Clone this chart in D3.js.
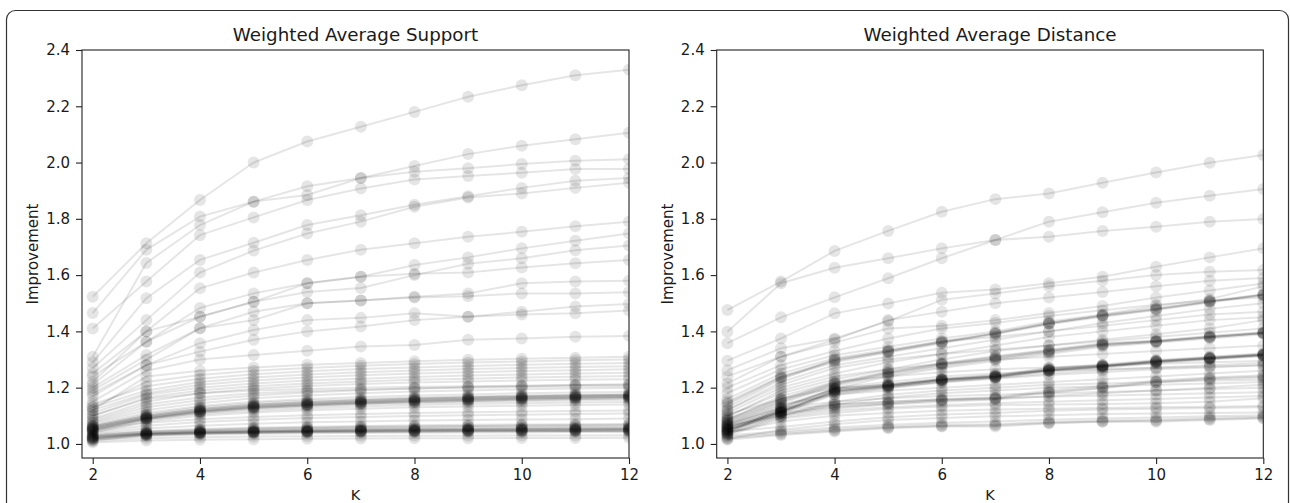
<!DOCTYPE html>
<html><head><meta charset="utf-8">
<script src="https://cdn.jsdelivr.net/npm/d3@7"></script>
<style>
html,body{margin:0;padding:0;background:#fff;}
svg{display:block;font-family:"DejaVu Sans",sans-serif;}
</style>
</head><body>
<svg id="chart" width="1290" height="503"></svg>
<script>
// ---------- data ----------
const kValues = [2,3,4,5,6,7,8,9,10,11,12];
const xTickValues = [2,4,6,8,10,12];
const yTickValues = [1.0,1.2,1.4,1.6,1.8,2.0,2.2,2.4];
const panelTitles = ["Weighted Average Support","Weighted Average Distance"];
const xLabel = "K";
const yLabel = "Improvement";

const supportHigh = [
 [1.523,1.713,1.867,2.000,2.075,2.127,2.180,2.234,2.275,2.310,2.330],
 [1.465,1.690,1.808,1.861,1.916,1.945,1.988,2.030,2.060,2.083,2.106],
 [1.310,1.643,1.778,1.861,1.885,1.945,1.967,1.980,1.995,2.006,2.012],
 [1.410,1.577,1.742,1.805,1.867,1.908,1.940,1.952,1.964,1.977,1.977],
 [1.290,1.518,1.654,1.715,1.778,1.813,1.850,1.880,1.910,1.935,1.945],
 [1.270,1.440,1.609,1.687,1.748,1.790,1.843,1.876,1.890,1.910,1.928],
 [1.250,1.400,1.553,1.609,1.654,1.690,1.713,1.736,1.754,1.774,1.790],
 [1.240,1.363,1.483,1.535,1.571,1.594,1.636,1.663,1.695,1.722,1.748],
 [1.220,1.400,1.452,1.505,1.571,1.594,1.605,1.609,1.627,1.642,1.654],
 [1.210,1.363,1.452,1.505,1.540,1.554,1.600,1.640,1.660,1.688,1.705],
 [1.200,1.316,1.411,1.440,1.500,1.510,1.523,1.535,1.571,1.577,1.580],
 [1.190,1.300,1.411,1.470,1.500,1.510,1.520,1.525,1.535,1.535,1.539],
 [1.180,1.280,1.358,1.405,1.440,1.448,1.464,1.452,1.470,1.488,1.497],
 [1.170,1.280,1.328,1.370,1.400,1.417,1.440,1.452,1.460,1.464,1.474],
 [1.150,1.260,1.300,1.316,1.331,1.346,1.352,1.370,1.375,1.381,1.384]
];
const supportBandA = [
 [1.005,1.012,1.015,1.017,1.018,1.019,1.020,1.020,1.021,1.021,1.022],
 [1.010,1.020,1.024,1.026,1.027,1.028,1.029,1.029,1.030,1.030,1.031],
 [1.012,1.030,1.036,1.039,1.041,1.042,1.043,1.044,1.044,1.045,1.045],
 [1.015,1.028,1.033,1.036,1.038,1.039,1.040,1.041,1.041,1.042,1.042],
 [1.016,1.032,1.037,1.040,1.042,1.043,1.044,1.045,1.046,1.046,1.047],
 [1.018,1.033,1.038,1.041,1.043,1.044,1.045,1.046,1.046,1.047,1.047],
 [1.020,1.035,1.040,1.043,1.045,1.047,1.048,1.049,1.050,1.050,1.051],
 [1.020,1.034,1.039,1.042,1.044,1.046,1.047,1.048,1.048,1.049,1.050],
 [1.022,1.036,1.042,1.045,1.047,1.049,1.050,1.051,1.052,1.053,1.053],
 [1.024,1.036,1.041,1.044,1.046,1.048,1.049,1.050,1.051,1.052,1.052],
 [1.025,1.038,1.044,1.047,1.050,1.052,1.053,1.054,1.055,1.056,1.057],
 [1.027,1.037,1.043,1.046,1.049,1.051,1.052,1.053,1.054,1.055,1.056],
 [1.028,1.040,1.046,1.050,1.053,1.055,1.057,1.058,1.059,1.060,1.061],
 [1.030,1.042,1.048,1.053,1.056,1.058,1.060,1.062,1.063,1.064,1.065],
 [1.032,1.044,1.050,1.055,1.058,1.061,1.063,1.064,1.066,1.067,1.068],
 [1.035,1.046,1.053,1.058,1.061,1.064,1.066,1.068,1.069,1.070,1.071],
 [1.040,1.055,1.065,1.072,1.077,1.080,1.083,1.085,1.087,1.088,1.090],
 [1.045,1.065,1.078,1.086,1.092,1.096,1.099,1.102,1.104,1.106,1.108],
 [1.050,1.075,1.088,1.096,1.102,1.106,1.110,1.113,1.115,1.117,1.119]
];
const supportBandB = [
 [1.040,1.080,1.100,1.112,1.120,1.125,1.130,1.133,1.136,1.138,1.140],
 [1.045,1.085,1.106,1.118,1.127,1.133,1.138,1.142,1.145,1.147,1.149],
 [1.048,1.088,1.112,1.127,1.136,1.143,1.149,1.153,1.157,1.160,1.163],
 [1.050,1.088,1.110,1.124,1.133,1.140,1.145,1.149,1.152,1.155,1.157],
 [1.052,1.090,1.114,1.128,1.137,1.144,1.149,1.153,1.157,1.160,1.162],
 [1.053,1.091,1.115,1.130,1.139,1.146,1.152,1.157,1.161,1.164,1.167],
 [1.055,1.092,1.116,1.131,1.140,1.147,1.153,1.157,1.161,1.164,1.166],
 [1.057,1.094,1.118,1.133,1.142,1.149,1.155,1.160,1.164,1.167,1.170],
 [1.058,1.095,1.119,1.134,1.143,1.150,1.156,1.160,1.164,1.167,1.169],
 [1.060,1.098,1.122,1.137,1.146,1.153,1.159,1.163,1.167,1.170,1.172],
 [1.062,1.100,1.125,1.140,1.149,1.156,1.162,1.166,1.170,1.173,1.175],
 [1.063,1.100,1.124,1.139,1.148,1.155,1.161,1.165,1.169,1.172,1.174],
 [1.065,1.105,1.130,1.145,1.154,1.160,1.165,1.169,1.172,1.175,1.177],
 [1.070,1.110,1.135,1.150,1.160,1.167,1.172,1.176,1.180,1.183,1.185],
 [1.075,1.120,1.145,1.162,1.172,1.180,1.186,1.190,1.194,1.197,1.200],
 [1.080,1.130,1.155,1.172,1.183,1.191,1.197,1.202,1.206,1.209,1.212]
];
const supportBandC = [
 [1.090,1.150,1.180,1.196,1.206,1.213,1.218,1.222,1.225,1.228,1.230],
 [1.100,1.165,1.190,1.205,1.215,1.222,1.228,1.232,1.236,1.239,1.241],
 [1.110,1.175,1.200,1.215,1.225,1.232,1.238,1.243,1.247,1.250,1.253],
 [1.120,1.180,1.210,1.225,1.236,1.244,1.250,1.255,1.259,1.262,1.265],
 [1.130,1.190,1.220,1.236,1.247,1.255,1.261,1.266,1.270,1.273,1.276],
 [1.140,1.205,1.232,1.248,1.258,1.266,1.272,1.277,1.281,1.285,1.288],
 [1.130,1.220,1.245,1.260,1.270,1.278,1.284,1.289,1.293,1.297,1.300],
 [1.120,1.240,1.260,1.272,1.281,1.288,1.294,1.299,1.303,1.306,1.310],
 [1.100,1.160,1.180,1.190,1.195,1.200,1.203,1.205,1.207,1.209,1.210],
 [1.085,1.140,1.165,1.180,1.188,1.193,1.197,1.200,1.202,1.204,1.205]
];

const distanceHigh = [
 [1.476,1.577,1.686,1.757,1.825,1.870,1.890,1.928,1.965,1.999,2.027],
 [1.399,1.571,1.626,1.660,1.695,1.725,1.736,1.757,1.772,1.790,1.799],
 [1.358,1.450,1.521,1.589,1.660,1.725,1.790,1.823,1.857,1.882,1.906],
 [1.296,1.375,1.464,1.499,1.537,1.549,1.571,1.594,1.630,1.663,1.695],
 [1.262,1.340,1.375,1.436,1.512,1.535,1.560,1.580,1.600,1.612,1.618]
];
const distanceSteep = [
 [1.150,1.240,1.298,1.328,1.360,1.393,1.429,1.455,1.478,1.506,1.530],
 [1.140,1.235,1.290,1.325,1.358,1.390,1.425,1.452,1.476,1.503,1.528],
 [1.145,1.238,1.295,1.330,1.362,1.392,1.428,1.456,1.480,1.505,1.530],
 [1.160,1.250,1.305,1.335,1.365,1.395,1.430,1.458,1.482,1.508,1.532],
 [1.120,1.220,1.280,1.310,1.340,1.370,1.400,1.430,1.455,1.480,1.500],
 [1.180,1.265,1.315,1.345,1.375,1.400,1.435,1.460,1.490,1.515,1.560]
];
const distanceBandE = [
 [1.080,1.150,1.210,1.250,1.280,1.304,1.328,1.352,1.363,1.379,1.393],
 [1.082,1.152,1.212,1.252,1.282,1.306,1.330,1.353,1.365,1.380,1.394],
 [1.075,1.145,1.205,1.245,1.275,1.300,1.325,1.350,1.363,1.379,1.393],
 [1.086,1.158,1.218,1.258,1.288,1.312,1.335,1.358,1.368,1.384,1.398],
 [1.090,1.160,1.215,1.255,1.285,1.310,1.332,1.355,1.366,1.382,1.395],
 [1.070,1.135,1.195,1.240,1.270,1.295,1.320,1.345,1.360,1.375,1.390],
 [1.100,1.180,1.230,1.265,1.300,1.330,1.350,1.370,1.390,1.410,1.440],
 [1.110,1.200,1.250,1.290,1.320,1.350,1.380,1.400,1.420,1.440,1.450]
];
const distanceBandF = [
 [1.060,1.120,1.190,1.206,1.227,1.239,1.263,1.275,1.292,1.304,1.316],
 [1.062,1.118,1.190,1.207,1.228,1.240,1.264,1.276,1.293,1.305,1.317],
 [1.055,1.115,1.185,1.204,1.225,1.237,1.260,1.273,1.290,1.302,1.314],
 [1.056,1.114,1.186,1.205,1.226,1.238,1.261,1.274,1.291,1.303,1.315],
 [1.065,1.125,1.195,1.210,1.230,1.242,1.266,1.278,1.295,1.306,1.318],
 [1.068,1.128,1.198,1.211,1.231,1.243,1.268,1.280,1.296,1.308,1.320],
 [1.050,1.110,1.180,1.200,1.222,1.236,1.258,1.270,1.288,1.300,1.312],
 [1.070,1.130,1.195,1.212,1.232,1.245,1.270,1.282,1.298,1.310,1.322],
 [1.058,1.112,1.188,1.208,1.228,1.240,1.262,1.276,1.294,1.305,1.317],
 [1.048,1.110,1.175,1.198,1.218,1.232,1.245,1.255,1.265,1.272,1.280],
 [1.052,1.116,1.182,1.202,1.220,1.234,1.250,1.262,1.272,1.280,1.288]
];
const distanceBandG = [
 [1.045,1.109,1.133,1.145,1.156,1.162,1.185,1.200,1.221,1.233,1.240],
 [1.040,1.105,1.130,1.143,1.154,1.160,1.182,1.198,1.218,1.230,1.236],
 [1.050,1.112,1.140,1.150,1.160,1.166,1.190,1.205,1.225,1.236,1.244],
 [1.035,1.100,1.125,1.140,1.150,1.158,1.170,1.180,1.190,1.200,1.210],
 [1.042,1.128,1.150,1.162,1.170,1.175,1.180,1.185,1.190,1.195,1.200],
 [1.038,1.122,1.140,1.150,1.158,1.163,1.168,1.172,1.176,1.180,1.184]
];
const distanceBandH = [
 [1.030,1.090,1.110,1.125,1.133,1.138,1.140,1.142,1.145,1.150,1.162],
 [1.035,1.095,1.118,1.130,1.138,1.145,1.150,1.155,1.160,1.165,1.170],
 [1.040,1.080,1.100,1.110,1.118,1.122,1.125,1.128,1.130,1.132,1.135]
];
const distanceLow = [
 [1.015,1.032,1.044,1.056,1.062,1.062,1.073,1.079,1.079,1.085,1.090],
 [1.020,1.035,1.048,1.058,1.064,1.066,1.075,1.080,1.082,1.088,1.093],
 [1.025,1.040,1.052,1.062,1.068,1.070,1.078,1.083,1.086,1.092,1.097],
 [1.030,1.045,1.058,1.068,1.075,1.080,1.086,1.090,1.094,1.098,1.102],
 [1.018,1.050,1.070,1.085,1.092,1.098,1.102,1.106,1.108,1.110,1.112]
];
const distanceScatter = [
 [1.085,1.170,1.220,1.240,1.255,1.265,1.272,1.280,1.285,1.290,1.295],
 [1.095,1.190,1.240,1.265,1.285,1.300,1.310,1.320,1.330,1.340,1.350],
 [1.120,1.210,1.270,1.300,1.320,1.335,1.350,1.365,1.380,1.395,1.410],
 [1.130,1.230,1.300,1.330,1.365,1.380,1.400,1.420,1.440,1.460,1.470],
 [1.200,1.280,1.330,1.375,1.410,1.430,1.455,1.475,1.495,1.510,1.520],
 [1.215,1.310,1.360,1.410,1.420,1.440,1.465,1.490,1.520,1.545,1.570],
 [1.240,1.310,1.370,1.440,1.470,1.500,1.520,1.540,1.560,1.580,1.590],
 [1.105,1.160,1.200,1.220,1.240,1.250,1.260,1.265,1.270,1.275,1.280],
 [1.065,1.100,1.150,1.175,1.190,1.200,1.210,1.215,1.220,1.225,1.228],
 [1.075,1.140,1.175,1.190,1.200,1.210,1.220,1.230,1.240,1.250,1.260],
 [1.050,1.100,1.140,1.165,1.180,1.190,1.200,1.205,1.210,1.215,1.220],
 [1.045,1.060,1.080,1.095,1.105,1.110,1.118,1.122,1.125,1.128,1.130]
];

// ---------- drawing ----------
const svg = d3.select("#chart");

svg.append("rect").attr("x",6.5).attr("y",10.5).attr("width",1282).attr("height",620)
  .attr("rx",9).attr("fill","#fff").attr("stroke","#333").attr("stroke-width",1.2);

const plotTop = 50, plotBottom = 458;
const panels = [
  {title: panelTitles[0], left: 82, right: 629,
   series: [].concat(supportBandA, supportBandB, supportBandC, supportHigh)},
  {title: panelTitles[1], left: 716.7, right: 1263.3,
   series: [].concat(distanceLow, distanceBandH, distanceBandG, distanceBandF, distanceBandE, distanceScatter, distanceSteep, distanceHigh)}
];

panels.forEach((p, i) => {
  const x = d3.scaleLinear().domain([1.8, 12]).range([p.left, p.right]);
  const y = d3.scaleLinear().domain([0.95, 2.4]).range([plotBottom, plotTop]);
  const g = svg.append("g");

  const clipId = "clip" + i;
  svg.append("clipPath").attr("id", clipId).append("rect")
    .attr("x", p.left).attr("y", plotTop).attr("width", p.right - p.left).attr("height", plotBottom - plotTop);

  const plot = g.append("g").attr("clip-path", `url(#${clipId})`);
  const line = d3.line().x((d, j) => x(kValues[j])).y(d => y(d));
  p.series.forEach(s => {
    const sg = plot.append("g");
    sg.append("path").attr("d", line(s)).attr("fill", "none")
      .attr("stroke", "#000").attr("stroke-opacity", 0.1).attr("stroke-width", 2);
    sg.selectAll("circle").data(s).join("circle")
      .attr("cx", (d, j) => x(kValues[j])).attr("cy", d => y(d)).attr("r", 6)
      .attr("fill", "#000").attr("fill-opacity", 0.1);
  });

  const ax = g.append("g").attr("transform", `translate(0,${plotBottom})`)
    .call(d3.axisBottom(x).tickValues(xTickValues).tickFormat(d3.format("d")).tickSize(6).tickPadding(5.5));
  const ay = g.append("g").attr("transform", `translate(${p.left},0)`)
    .call(d3.axisLeft(y).tickValues(yTickValues).tickFormat(d3.format(".1f")).tickSize(6).tickPadding(6));
  [ax, ay].forEach(a => {
    a.select(".domain").remove();
    a.selectAll("line").attr("stroke", "#222").attr("stroke-width", 1.1);
    a.selectAll("text").attr("font-size", 15).attr("fill", "#1a1a1a")
      .attr("font-family", "DejaVu Sans, sans-serif");
  });

  g.append("rect").attr("x", p.left).attr("y", plotTop).attr("width", p.right - p.left)
    .attr("height", plotBottom - plotTop).attr("fill", "none").attr("stroke", "#222").attr("stroke-width", 1.1);

  g.append("text").attr("x", (p.left + p.right) / 2).attr("y", 40.5)
    .attr("text-anchor", "middle").attr("font-size", 18.3).attr("fill", "#1a1a1a").text(p.title);
  g.append("text").attr("x", (p.left + p.right) / 2).attr("y", 500)
    .attr("text-anchor", "middle").attr("font-size", 14.5).attr("fill", "#1a1a1a").text(xLabel);
  g.append("text").attr("transform", `translate(${p.left - 44},${(plotTop + plotBottom) / 2}) rotate(-90)`)
    .attr("text-anchor", "middle").attr("font-size", 15).attr("fill", "#1a1a1a").text(yLabel);
});
</script>
</body></html>
